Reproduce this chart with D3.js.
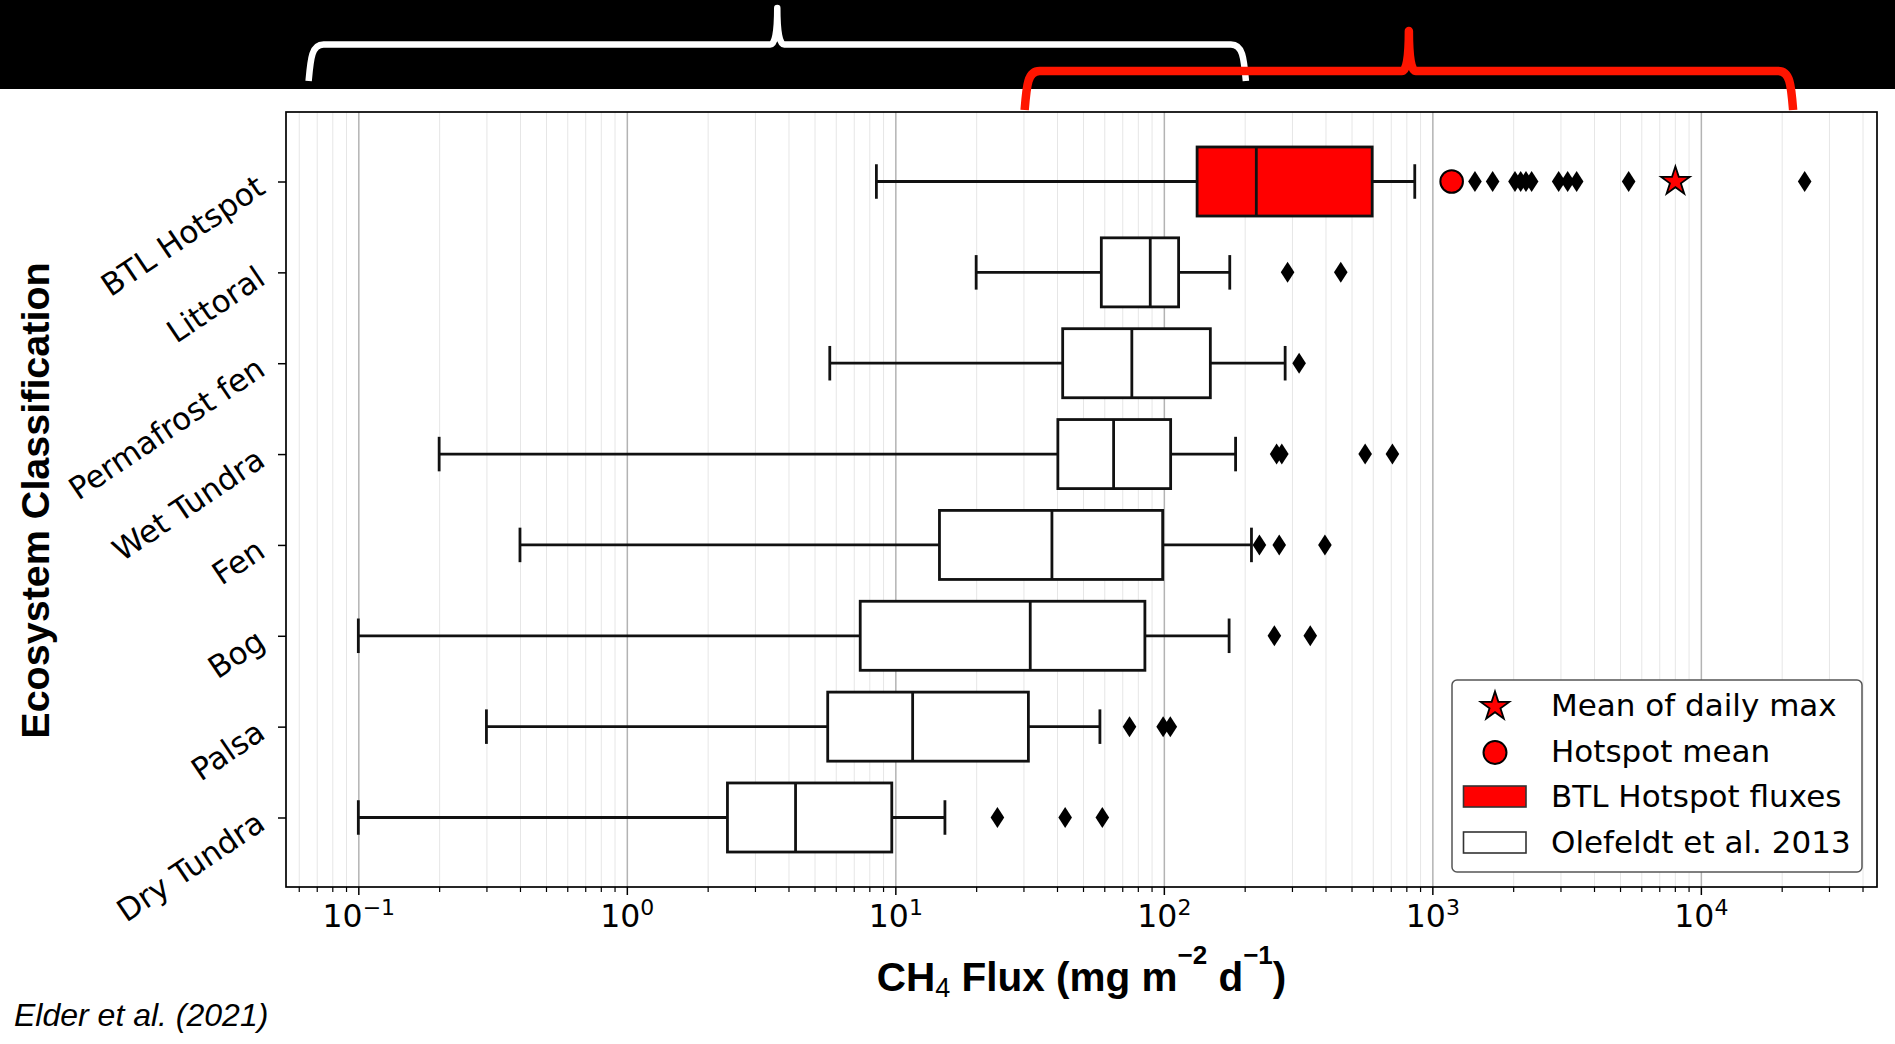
<!DOCTYPE html>
<html>
<head>
<meta charset="utf-8">
<script src="https://cdn.jsdelivr.net/npm/d3@7"></script>
<style>
  html, body { margin: 0; padding: 0; background: #fff; }
  svg { display: block; }
</style>
</head>
<body>
<svg id="chart" width="1895" height="1044"></svg>
<script>
// CH4 flux distributions per ecosystem class (mg m-2 d-1)
const categories = ["BTL Hotspot", "Littoral", "Permafrost fen", "Wet Tundra", "Fen", "Bog", "Palsa", "Dry Tundra"];
const whiskerLow  = [8.5, 20, 5.7, 0.2, 0.4, 0.1, 0.3, 0.1];
const q1          = [133, 58.5, 42, 40.3, 14.6, 7.4, 5.6, 2.37];
const median      = [221, 89, 76, 65, 38.3, 31.8, 11.6, 4.25];
const q3          = [597, 113.5, 149, 106, 99, 85, 31.3, 9.7];
const whiskerHigh = [860, 176, 283, 185, 212, 175, 57.8, 15.3];
const outliers = [
  [1441, 1677, 2031, 2133, 2232, 2343, 2954, 3191, 3447, 5384, 24360],
  [289, 456],
  [319],
  [263, 275, 562, 710],
  [227, 269, 398],
  [258, 351],
  [74.5, 99.4, 105.7],
  [24, 42.9, 59]
];
const hotspotMean = 1180;
const meanDailyMax = 8040;

const decadeTicks = [0.1, 1, 10, 100, 1000, 10000];
const legendLabels = ["Mean of daily max", "Hotspot mean", "BTL Hotspot fluxes", "Olefeldt et al. 2013"];
// flux ranges bracketed above the plot: Olefeldt et al. synthesis, BTL hotspots
const braceSpans = [[0.067, 197], [31.1, 21500]];
const braceColors = ["#ffffff", "#ff1500"];

const W = 1895, H = 1044;
const plot = { left: 286, right: 1877, top: 112, bottom: 887 };
const plotH = plot.bottom - plot.top;
const svg = d3.select("#chart");

// log x scale with 5% padding (in decades) on both sides of the data
const allVals = whiskerLow.concat(whiskerHigh, outliers.flat(), [hotspotMean, meanDailyMax]);
const lmin = Math.log10(d3.min(allVals)), lmax = Math.log10(d3.max(allVals));
const lpad = (lmax - lmin) * 0.05;
const x = d3.scaleLog().domain([10 ** (lmin - lpad), 10 ** (lmax + lpad)]).range([plot.left, plot.right]);
const y = d3.scalePoint().domain(categories).range([plot.top, plot.bottom]).padding(0.765);
const boxH = y.step() * 0.76;

const minorTicks = [];
for (let e = -2; e <= 4; e++) {
  for (let m = 2; m <= 9; m++) {
    const v = m * 10 ** e;
    if (v >= x.domain()[0] && v <= x.domain()[1]) minorTicks.push(v);
  }
}

// page background and the black header strip
svg.append("rect").attr("width", W).attr("height", H).attr("fill", "#fff");
svg.append("rect").attr("width", W).attr("height", 89).attr("fill", "#000");

// curly braces over the flux ranges
function bracePath(x1, x2, yBar, yLeg, yTip) {
  const xm = (x1 + x2) / 2, r = 12, t = 7;
  return `M${x1 - 3},${yLeg} C${x1 - 1},${yBar + 14} ${x1},${yBar} ${x1 + r},${yBar}` +
         ` L${xm - t},${yBar} Q${xm},${yBar} ${xm},${yTip}` +
         ` Q${xm},${yBar} ${xm + t},${yBar} L${x2 - r},${yBar}` +
         ` C${x2},${yBar} ${x2 + 1},${yBar + 14} ${x2 + 3},${yLeg}`;
}
const braceGeom = [
  { yBar: 44.5, yLeg: 81, yTip: 8, w: 6.5 },
  { yBar: 71, yLeg: 110, yTip: 31, w: 8.5 }
];
braceSpans.forEach((s, i) => {
  const g = braceGeom[i];
  svg.append("path")
    .attr("d", bracePath(x(s[0]), x(s[1]), g.yBar, g.yLeg, g.yTip))
    .attr("fill", "none")
    .attr("stroke", braceColors[i])
    .attr("stroke-width", g.w)
    .attr("stroke-linejoin", "round");
});

// vertical grid: minor then major decades
svg.append("g").attr("transform", `translate(0,${plot.bottom})`)
  .call(d3.axisBottom(x).tickValues(minorTicks).tickSize(-plotH).tickFormat(""))
  .call(g => g.select(".domain").remove())
  .call(g => g.selectAll("line").attr("stroke", "#e6e6e6").attr("stroke-width", 1));
svg.append("g").attr("transform", `translate(0,${plot.bottom})`)
  .call(d3.axisBottom(x).tickValues(decadeTicks).tickSize(-plotH).tickFormat(""))
  .call(g => g.select(".domain").remove())
  .call(g => g.selectAll("line").attr("stroke", "#b3b3b3").attr("stroke-width", 1.5));

// box plots
const rows = categories.map((c, i) => ({
  c, lo: whiskerLow[i], q1: q1[i], med: median[i], q3: q3[i], hi: whiskerHigh[i], out: outliers[i], hot: i === 0
}));
const lineColor = "#111";
const lw = 2.8;
const boxes = svg.append("g");
rows.forEach(r => {
  const cy = y(r.c);
  const g = boxes.append("g");
  g.append("line").attr("x1", x(r.lo)).attr("x2", x(r.q1)).attr("y1", cy).attr("y2", cy)
    .attr("stroke", lineColor).attr("stroke-width", lw);
  g.append("line").attr("x1", x(r.q3)).attr("x2", x(r.hi)).attr("y1", cy).attr("y2", cy)
    .attr("stroke", lineColor).attr("stroke-width", lw);
  [r.lo, r.hi].forEach(v => {
    g.append("line").attr("x1", x(v)).attr("x2", x(v)).attr("y1", cy - boxH / 4).attr("y2", cy + boxH / 4)
      .attr("stroke", lineColor).attr("stroke-width", lw);
  });
  g.append("rect").attr("x", x(r.q1)).attr("y", cy - boxH / 2)
    .attr("width", x(r.q3) - x(r.q1)).attr("height", boxH)
    .attr("fill", r.hot ? "#ff0000" : "#ffffff")
    .attr("stroke", lineColor).attr("stroke-width", lw);
  g.append("line").attr("x1", x(r.med)).attr("x2", x(r.med)).attr("y1", cy - boxH / 2).attr("y2", cy + boxH / 2)
    .attr("stroke", lineColor).attr("stroke-width", lw);
  g.selectAll("path.flier").data(r.out).join("path")
    .attr("class", "flier")
    .attr("d", "M0,-10.5L6.8,0L0,10.5L-6.8,0Z")
    .attr("transform", d => `translate(${x(d)},${cy})`)
    .attr("fill", "#000");
});

// hotspot mean and mean of daily maxima on the BTL row
const starSym = d3.symbol().type(d3.symbolStar).size(15 * 15 / 0.8908130915292852);
const yHot = y(categories[0]);
svg.append("circle").attr("cx", x(hotspotMean)).attr("cy", yHot).attr("r", 11.3)
  .attr("fill", "#ff0000").attr("stroke", "#000").attr("stroke-width", 2);
svg.append("path").attr("d", starSym()).attr("transform", `translate(${x(meanDailyMax)},${yHot})`)
  .attr("fill", "#ff0000").attr("stroke", "#000").attr("stroke-width", 1.8).attr("stroke-linejoin", "miter");

// x axis: minor and major ticks, power-of-ten labels
svg.append("g").attr("transform", `translate(0,${plot.bottom})`)
  .call(d3.axisBottom(x).tickValues(minorTicks).tickSize(5).tickFormat(""))
  .call(g => g.select(".domain").remove())
  .call(g => g.selectAll("line").attr("stroke", "#000").attr("stroke-width", 1.2));
const xAxis = svg.append("g").attr("transform", `translate(0,${plot.bottom})`)
  .call(d3.axisBottom(x).tickValues(decadeTicks).tickSize(8).tickFormat(""))
  .call(g => g.select(".domain").remove())
  .call(g => g.selectAll("line").attr("stroke", "#000").attr("stroke-width", 1.5));
xAxis.selectAll(".tick").each(function (d) {
  const e = Math.round(Math.log10(d));
  const t = d3.select(this).select("text")
    .attr("y", 40).attr("dy", null)
    .attr("fill", "#000")
    .attr("font-family", "DejaVu Sans")
    .attr("font-size", 31.5)
    .attr("text-anchor", "middle")
    .text(null);
  t.append("tspan").text("10");
  t.append("tspan").attr("dy", -12).attr("font-size", 22).text(e < 0 ? "\u2212" + Math.abs(e) : String(e));
});

// y axis: category ticks with slanted labels
svg.append("g").attr("transform", `translate(${plot.left},0)`)
  .call(d3.axisLeft(y).tickSize(8))
  .call(g => g.select(".domain").remove())
  .call(g => g.selectAll("line").attr("stroke", "#000").attr("stroke-width", 1.5))
  .call(g => g.selectAll("text")
    .attr("x", 0).attr("dy", "0.35em")
    .attr("transform", "translate(-25,1) rotate(-34)")
    .attr("text-anchor", "end")
    .attr("fill", "#000")
    .attr("font-family", "DejaVu Sans")
    .attr("font-size", 31));

// plot frame
svg.append("rect").attr("x", plot.left).attr("y", plot.top)
  .attr("width", plot.right - plot.left).attr("height", plotH)
  .attr("fill", "none").attr("stroke", "#000").attr("stroke-width", 1.7);

// legend
const lg = svg.append("g").attr("font-family", "DejaVu Sans").attr("font-size", 31);
lg.append("rect").attr("x", 1452).attr("y", 680).attr("width", 410).attr("height", 192)
  .attr("rx", 5).attr("fill", "#fff").attr("stroke", "#555").attr("stroke-width", 1.5);
const lgBase = [716, 762, 807, 853];
legendLabels.forEach((lab, i) => {
  lg.append("text").attr("x", 1551).attr("y", lgBase[i]).attr("fill", "#000").text(lab);
});
lg.append("path").attr("d", starSym()).attr("transform", `translate(1495,${lgBase[0] - 9.5})`)
  .attr("fill", "#ff0000").attr("stroke", "#000").attr("stroke-width", 1.8);
lg.append("circle").attr("cx", 1495).attr("cy", lgBase[1] - 9.5).attr("r", 11.5)
  .attr("fill", "#ff0000").attr("stroke", "#000").attr("stroke-width", 2);
lg.append("rect").attr("x", 1463.5).attr("y", lgBase[2] - 21).attr("width", 62.5).attr("height", 21)
  .attr("fill", "#ff0000").attr("stroke", "#333").attr("stroke-width", 1.6);
lg.append("rect").attr("x", 1463.5).attr("y", lgBase[3] - 21).attr("width", 62.5).attr("height", 21)
  .attr("fill", "#fff").attr("stroke", "#333").attr("stroke-width", 1.6);

// axis titles
const xt = svg.append("text")
  .attr("x", (plot.left + plot.right) / 2).attr("y", 991)
  .attr("text-anchor", "middle")
  .attr("font-family", "Liberation Sans, Arial, sans-serif")
  .attr("font-weight", "bold").attr("font-size", 40.5).attr("fill", "#000");
xt.append("tspan").text("CH");
xt.append("tspan").attr("dy", 6).attr("font-size", 27).attr("font-weight", "normal").text("4");
xt.append("tspan").attr("dy", -6).text(" Flux (mg m");
xt.append("tspan").attr("dy", -27).attr("font-size", 26).text("\u22122");
xt.append("tspan").attr("dy", 27).text(" d");
xt.append("tspan").attr("dy", -27).attr("font-size", 26).text("\u22121");
xt.append("tspan").attr("dy", 27).text(")");

svg.append("text")
  .attr("transform", `translate(49,${(plot.top + plot.bottom) / 2 + 1}) rotate(-90)`)
  .attr("text-anchor", "middle")
  .attr("font-family", "Liberation Sans, Arial, sans-serif")
  .attr("font-weight", "bold").attr("font-size", 39.5).attr("fill", "#000")
  .text("Ecosystem Classification");

// source credit
svg.append("text").attr("x", 14).attr("y", 1026)
  .attr("font-family", "Liberation Sans, Arial, sans-serif")
  .attr("font-style", "italic").attr("font-size", 32).attr("fill", "#000")
  .text("Elder et al. (2021)");
</script>
</body>
</html>
